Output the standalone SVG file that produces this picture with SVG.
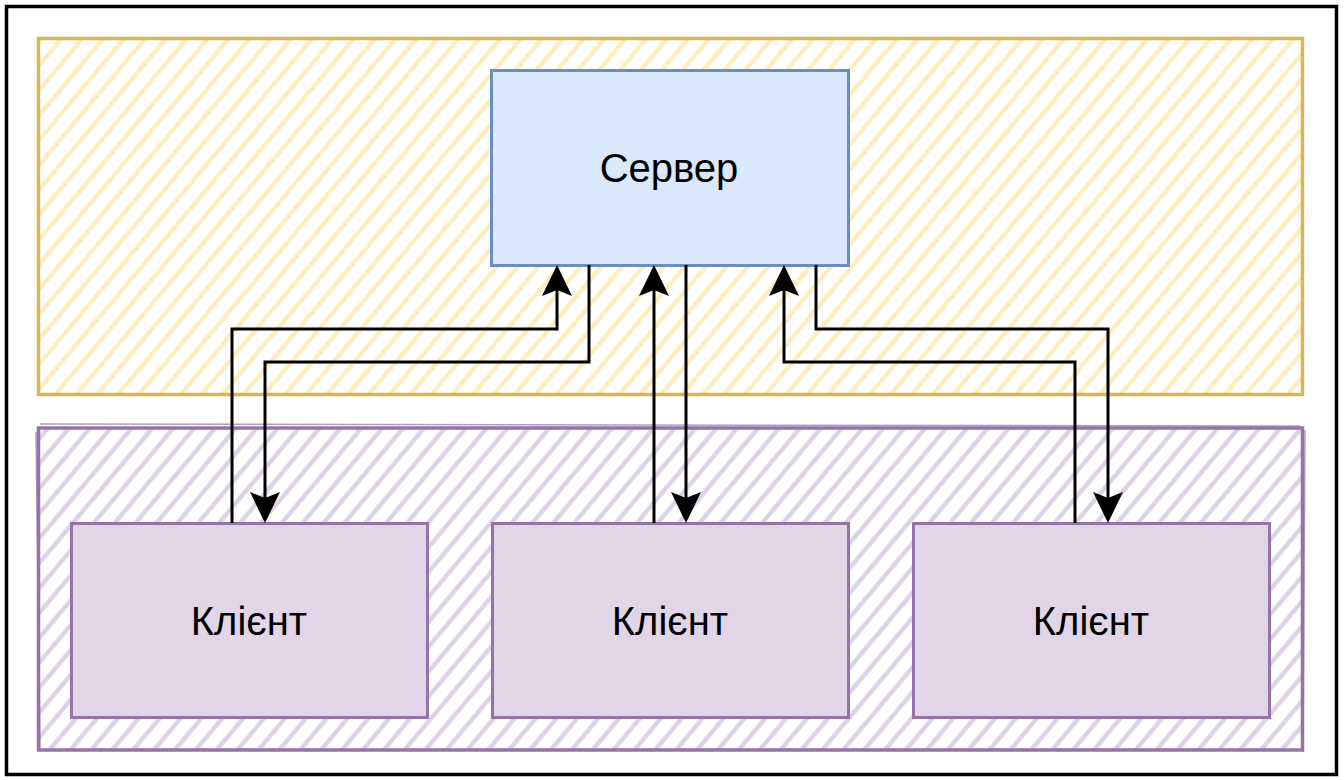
<svg xmlns="http://www.w3.org/2000/svg" width="1344" height="780" viewBox="0 0 1344 780">
  <style>
    .frame { fill: #ffffff; stroke: #000000; stroke-width: 3.5; }
    .zone-server { fill: url(#hatch-yellow); stroke: #d6b656; stroke-width: 3.5; }
    .zone-client { fill: url(#hatch-purple); stroke: #9673a6; stroke-width: 3.5; }
    .sketch-purple { fill: none; stroke: #9673a6; stroke-width: 1.5; opacity: 0.7; }
    .server { fill: #dae8fc; stroke: #6c8ebf; stroke-width: 3; }
    .client { fill: #e1d5e7; stroke: #9673a6; stroke-width: 3; }
    .label { font-family: "Liberation Sans", Arial, Helvetica, sans-serif; font-size: 40px; fill: #000000; text-anchor: middle; dominant-baseline: central; }
    .link { fill: none; stroke: #000000; stroke-width: 3; marker-end: url(#arrow); }
  </style>
  <defs>
    <pattern id="hatch-yellow" patternUnits="userSpaceOnUse" width="16" height="16" patternTransform="rotate(40)">
      <line x1="8" y1="0" x2="8" y2="16" stroke="#fdedbe" stroke-width="4.5"/>
    </pattern>
    <pattern id="hatch-purple" patternUnits="userSpaceOnUse" width="16" height="16" patternTransform="rotate(40)">
      <line x1="8" y1="0" x2="8" y2="16" stroke="#ddd1e7" stroke-width="4.5"/>
    </pattern>
    <!-- block arrowhead; reference point is the notch, the tip lies 25px ahead -->
    <marker id="arrow" markerUnits="userSpaceOnUse" viewBox="-8 -16 34 32" refX="0" refY="0" markerWidth="34" markerHeight="32" orient="auto">
      <path d="M25,0 L-6,-15 L0,0 L-6,15 Z" fill="#000000"/>
    </marker>
  </defs>

  <rect class="frame" x="6.5" y="6.5" width="1330" height="768"/>

  <g id="zone-server">
    <rect class="zone-server" x="38.5" y="38.5" width="1264" height="356"/>
  </g>
  <g id="zone-clients">
    <rect class="zone-client" x="38.5" y="428" width="1264" height="322"/>
    <path class="sketch-purple" d="M40,424 L1300,426 M1305,430 L1303,752 M36,432 L40,748"/>
  </g>

  <g id="server">
    <rect class="server" x="491.5" y="70.5" width="357" height="195"/>
    <text class="label" x="669" y="168">Сервер</text>
  </g>

  <g id="client-1">
    <rect class="client" x="71.5" y="523.5" width="356" height="194"/>
    <text class="label" x="249" y="621">Клієнт</text>
  </g>
  <g id="client-2">
    <rect class="client" x="492.5" y="523.5" width="356" height="194"/>
    <text class="label" x="670" y="621">Клієнт</text>
  </g>
  <g id="client-3">
    <rect class="client" x="913.5" y="523.5" width="356" height="194"/>
    <text class="label" x="1091" y="621">Клієнт</text>
  </g>

  <g id="connectors">
    <!-- client 1 -->
    <path class="link" d="M232,523 L232,329 L557,329 L557,290"/>
    <path class="link" d="M589,265 L589,362 L265,362 L265,498"/>
    <!-- client 2 -->
    <path class="link" d="M654,523 L654,290"/>
    <path class="link" d="M686,265 L686,498"/>
    <!-- client 3 -->
    <path class="link" d="M1075,523 L1075,362 L784,362 L784,290"/>
    <path class="link" d="M816,265 L816,329 L1108,329 L1108,498"/>
  </g>
</svg>
